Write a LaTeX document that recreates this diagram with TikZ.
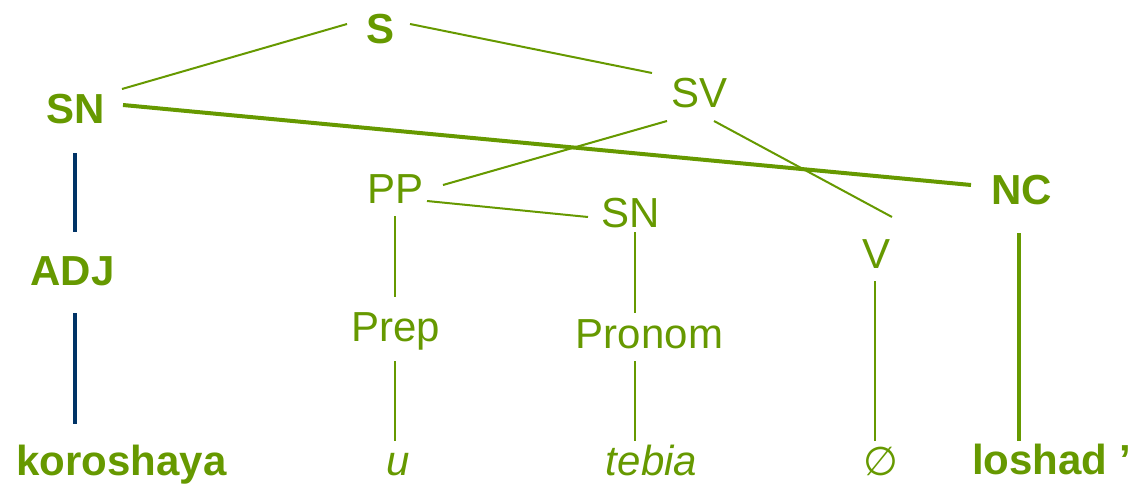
\documentclass[tikz,border=0pt]{standalone}
\usepackage{fontspec}
\setmainfont{Liberation Sans}
\newfontfamily\symfont{DejaVu Sans}
\definecolor{lgreen}{HTML}{669900}
\definecolor{lblue}{HTML}{003366}
\begin{document}
\begin{tikzpicture}[x=1pt,y=-1pt,
  lab/.style={inner sep=0pt,outer sep=0pt,anchor=base,text=lgreen,font=\fontsize{42}{50}\selectfont},
  blab/.style={lab,font=\fontsize{42}{50}\selectfont\bfseries},
  ilab/.style={lab,font=\fontsize{42}{50}\selectfont\itshape},
  thinl/.style={draw=lgreen,line width=2pt},
  thickl/.style={draw=lgreen,line width=4pt},
  bluel/.style={draw=lblue,line width=3.5pt}]
\useasboundingbox (0,0) rectangle (1131,484);
% nodes
\node[blab] (S)   at (380.5,44)  {S};
\node[blab] (SN)  at (75.5,124)  {SN};
\node[lab]  (SV)  at (699.5,108) {SV};
\node[lab]  (PP)  at (395.5,203) {PP};
\node[lab]  (SNm) at (630.5,227) {SN};
\node[blab] (NC)  at (1021.5,204) {NC};
\node[lab]  (V)   at (876.5,268) {V};
\node[blab] (ADJ) at (72.5,285)  {ADJ};
\node[lab]  (Prep) at (395.5,341) {Prep};
\node[lab]  (Pron) at (649.5,348) {Pronom};
\node[blab] (kor) at (121.5,475) {koroshaya};
\node[ilab] (u)   at (398.5,475) {u};
\node[ilab] (teb) at (651.5,475) {tebia};
\node[lab,font=\fontsize{40}{48}\selectfont\symfont] (emp) at (880.5,475) {∅};
\node[blab] (losh) at (1051.5,474) {loshad ’};
% connectors
\draw[thinl] ([shift={(46.5,-35)}]SN.base) -- ([shift={(-33.5,-20)}]S.base);
\draw[thinl] ([shift={(29.5,-20)}]S.base) -- ([shift={(-47.5,-35)}]SV.base);
\draw[thickl] ([shift={(47.5,-19)}]SN.base) -- ([shift={(-50.5,-19)}]NC.base);
\draw[thinl] ([shift={(-32.5,13)}]SV.base) -- ([shift={(47.5,-18)}]PP.base);
\draw[thinl] ([shift={(14.5,13)}]SV.base) -- ([shift={(15.5,-51)}]V.base);
\draw[thinl] ([shift={(31.5,-2)}]PP.base) -- ([shift={(-42.5,-10)}]SNm.base);
\draw[thinl] ([shift={(-0.5,13)}]PP.base) -- ([shift={(-0.5,-44)}]Prep.base);
\draw[thinl] ([shift={(4.5,5)}]SNm.base) -- ([shift={(-14.5,-35)}]Pron.base);
\draw[thinl] ([shift={(-0.5,20)}]Prep.base) -- ([shift={(-3.5,-34)}]u.base);
\draw[thinl] ([shift={(-14.5,13)}]Pron.base) -- ([shift={(-16.5,-34)}]teb.base);
\draw[thinl] ([shift={(-1.5,13)}]V.base) -- ([shift={(-5.5,-34)}]emp.base);
\draw[thickl] ([shift={(-2.5,29)}]NC.base) -- ([shift={(-32.5,-33)}]losh.base);
\draw[bluel] ([shift={(-0.5,29)}]SN.base) -- ([shift={(2.5,-53)}]ADJ.base);
\draw[bluel] ([shift={(2.5,28)}]ADJ.base) -- ([shift={(-46.5,-51)}]kor.base);
\end{tikzpicture}
\end{document}
